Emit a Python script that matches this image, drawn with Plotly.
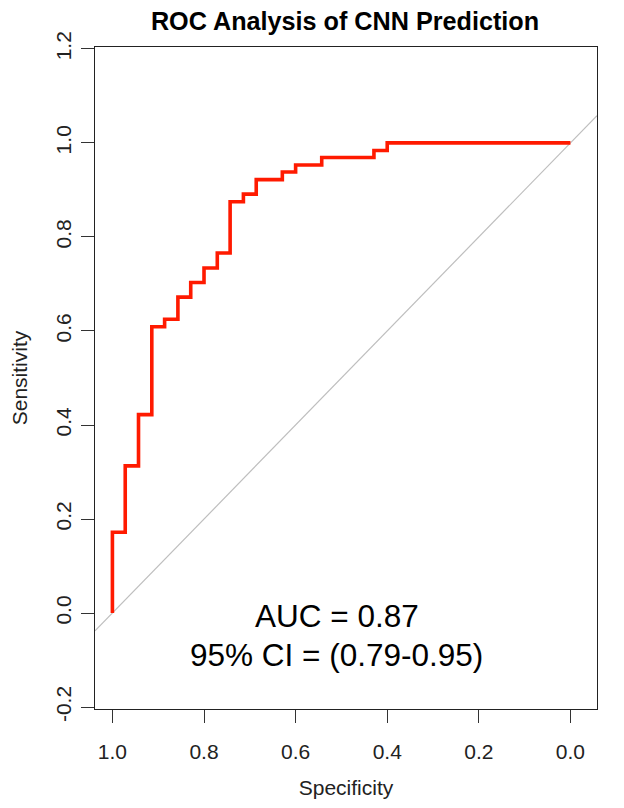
import plotly.graph_objects as go

# ROC step vertices (specificity, sensitivity)
specificity = [1.0, 0.972, 0.943, 0.914, 0.886, 0.857, 0.829, 0.8, 0.771, 0.743,
               0.714, 0.686, 0.629, 0.6, 0.543, 0.429, 0.4, 0.0]
sensitivity = [0.0, 0.172, 0.313, 0.422, 0.609, 0.625, 0.672, 0.703, 0.734, 0.766,
               0.875, 0.891, 0.922, 0.938, 0.953, 0.969, 0.984, 1.0]

x_ticks = [1.0, 0.8, 0.6, 0.4, 0.2, 0.0]
x_tick_labels = ["1.0", "0.8", "0.6", "0.4", "0.2", "0.0"]
y_ticks = [-0.2, 0.0, 0.2, 0.4, 0.6, 0.8, 1.0, 1.2]
y_tick_labels = ["-0.2", "0.0", "0.2", "0.4", "0.6", "0.8", "1.0", "1.2"]

x_range = [1.038, -0.058]
y_range = [-0.204, 1.204]

auc_text = "AUC = 0.87"
ci_text = "95% CI = (0.79-0.95)"
title_text = "ROC Analysis of CNN Prediction"

FONT = "Liberation Sans, Arial, Helvetica, sans-serif"

fig = go.Figure()

# diagonal reference line sens = 1 - spec across the full plot region
fig.add_trace(go.Scatter(
    x=x_range, y=[1 - v for v in x_range], mode="lines",
    line=dict(color="#bebebe", width=1.2), hoverinfo="skip", showlegend=False,
))

fig.add_trace(go.Scatter(
    x=specificity, y=sensitivity, mode="lines",
    line=dict(color="#ff1a00", width=3.6, shape="vh"),
    showlegend=False,
))

fig.add_annotation(x=0.51, y=-0.007, xref="x", yref="y", text=auc_text,
                   showarrow=False, font=dict(family=FONT, size=31.5, color="black"),
                   yanchor="middle")
fig.add_annotation(x=0.51, y=-0.089, xref="x", yref="y", text=ci_text,
                   showarrow=False, font=dict(family=FONT, size=31.5, color="black"),
                   yanchor="middle")

fig.update_layout(
    width=624, height=808,
    margin=dict(l=87, r=35, t=39, b=107, autoexpand=False),
    paper_bgcolor="white", plot_bgcolor="white",
    font=dict(family=FONT, color="#1a1a1a"),
    title=dict(text="<b>" + title_text + "</b>", x=337 / 624,
               xanchor="center", y=1 - 13 / 808, yanchor="middle",
               font=dict(family=FONT, size=25.2, color="black")),
    xaxis=dict(
        range=x_range, tickvals=x_ticks, ticktext=x_tick_labels,
        ticks="outside", ticklen=13, tickwidth=1, tickcolor="#333",
        showgrid=False, zeroline=False, showline=True, linecolor="#222",
        linewidth=1, mirror=True, ticklabelstandoff=11, automargin=False,
        tickfont=dict(family=FONT, size=21, color="#222"),
        title=dict(text="Specificity", font=dict(family=FONT, size=21, color="#222"),
                   standoff=18),
    ),
    yaxis=dict(
        range=y_range, tickvals=y_ticks, ticktext=y_tick_labels,
        ticks="outside", ticklen=13, tickwidth=1, tickcolor="#333",
        showgrid=False, zeroline=False, showline=True, linecolor="#222",
        linewidth=1, mirror=True, tickangle=-90, automargin=False,
        ticklabelstandoff=2,
        tickfont=dict(family=FONT, size=21, color="#222"),
        title=dict(text="Sensitivity", font=dict(family=FONT, size=21, color="#222"),
                   standoff=28),
    ),
)

fig.write_html("out.html")
